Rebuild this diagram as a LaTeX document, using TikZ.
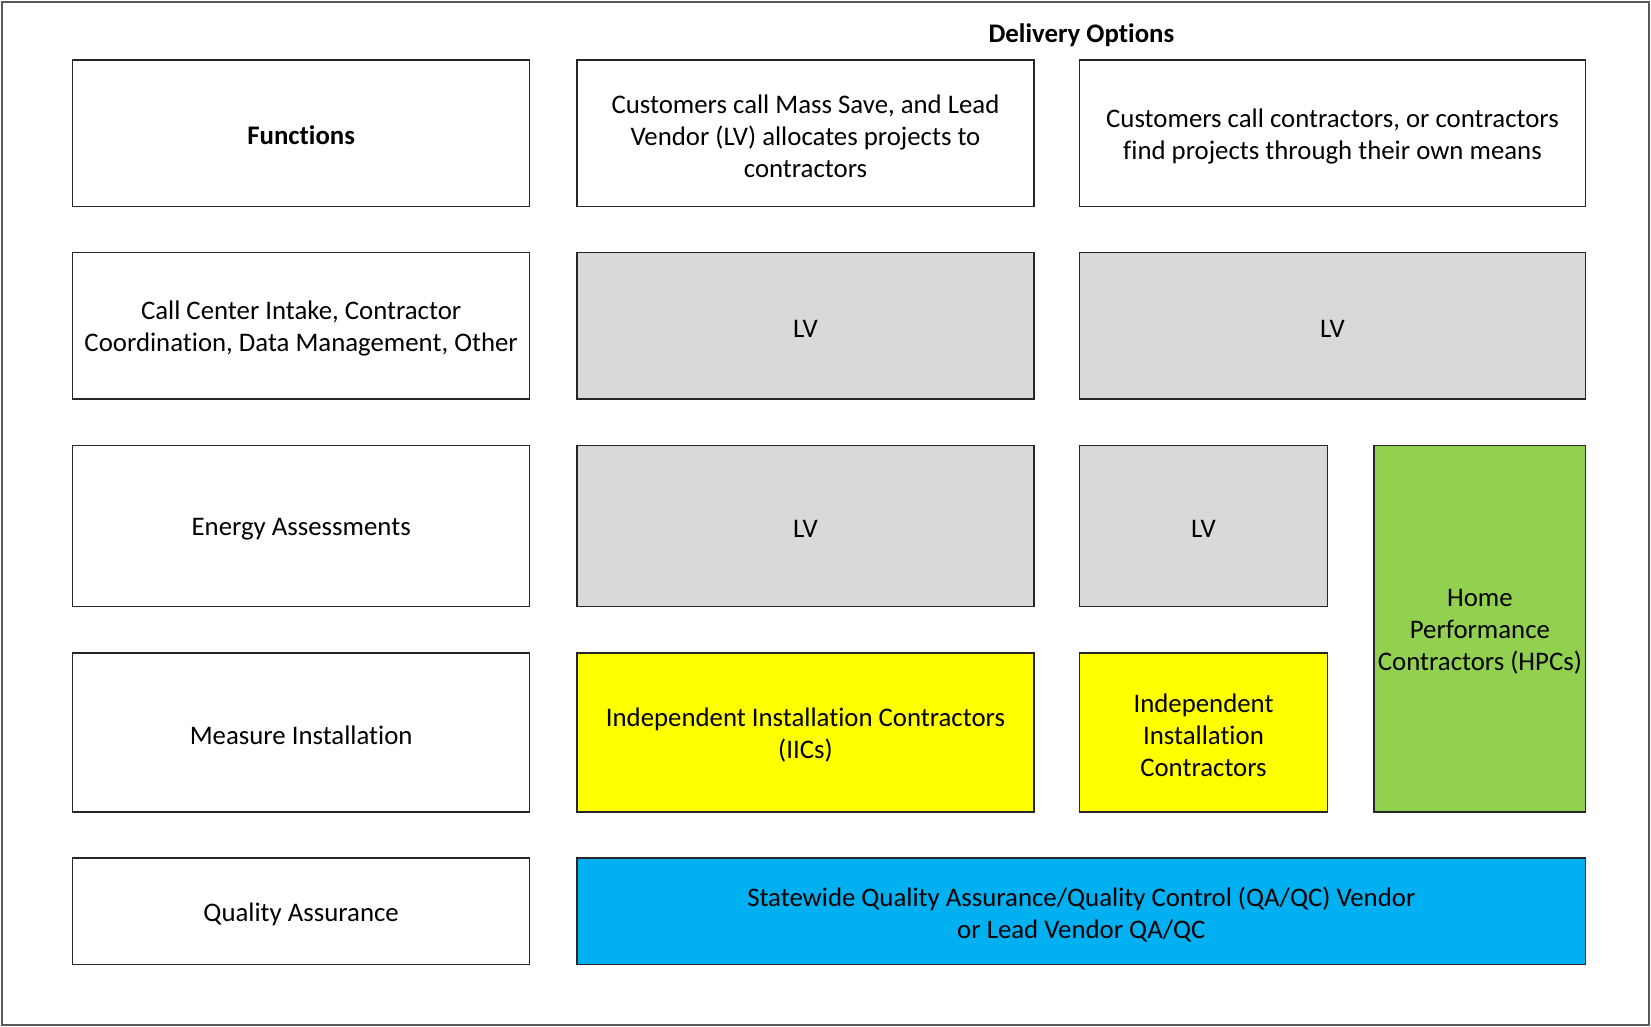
\documentclass[tikz,border=0pt]{standalone}
\usepackage{fontspec}
\setmainfont{Carlito}[Ligatures={NoCommon,NoRare,NoContextual}]
\usetikzlibrary{fit}
\definecolor{lvgray}{HTML}{D9D9D9}
\definecolor{iicyellow}{HTML}{FFFF00}
\definecolor{hpcgreen}{HTML}{92D050}
\definecolor{qablue}{HTML}{00B0F0}
\definecolor{framegray}{HTML}{595959}
\begin{document}
\begin{tikzpicture}[x=1pt,y=-1pt,
  box/.style={draw=black!85, line width=1.4pt, inner sep=0pt, outer sep=0pt},
  lvbox/.style={box, fill=lvgray},
  iicbox/.style={box, fill=iicyellow},
  hpcbox/.style={box, fill=hpcgreen},
  qabox/.style={box, fill=qablue},
  txt/.style={align=center, inner sep=0pt, yshift=-3pt, font=\fontsize{26.8}{32}\selectfont},
  btxt/.style={txt, font=\fontsize{26.8}{32}\selectfont\bfseries}]
\useasboundingbox (0,0) rectangle (1651,1027);
\draw[framegray, line width=2pt] (2,2) rectangle (1649,1025);
\node[btxt, yshift=2pt] (title) at (1081.4,34) {Delivery Options};
% column 1
\node[box, fit={(72.7,60) (529.6,206.4)}] (fun) {};
\node[btxt, yshift=1pt] at (fun.center) {Functions};
\node[box, fit={(72.7,252.7) (529.6,399.1)}] (call) {};
\node[txt] at (call.center) {Call Center Intake, Contractor\\Coordination, Data Management, Other};
\node[box, fit={(72.7,445.4) (529.6,606.5)}] (ea) {};
\node[txt] at (ea.center) {Energy Assessments};
\node[box, fit={(72.7,652.8) (529.6,811.8)}] (mi) {};
\node[txt] at (mi.center) {Measure Installation};
\node[box, fit={(72.7,858.1) (529.6,964.5)}] (qa) {};
\node[txt] at (qa.center) {Quality Assurance};
% column 2
\node[box, fit={(577,60) (1034,206.4)}] (opt1) {};
\node[txt] at (opt1.center) {Customers call Mass Save, and Lead\\Vendor (LV) allocates projects to\\contractors};
\node[lvbox, fit={(577,252.7) (1034,399.1)}] (lv1) {};
\node[txt] at (lv1.center) {LV};
\node[lvbox, fit={(577,445.4) (1034,606.5)}] (lv2) {};
\node[txt] at (lv2.center) {LV};
\node[iicbox, fit={(577,652.8) (1034,811.8)}] (iic1) {};
\node[txt] at (iic1.center) {Independent Installation Contractors\\(IICs)};
% column 3
\node[box, fit={(1079.3,60) (1585.7,206.4)}] (opt2) {};
\node[txt] at (opt2.center) {Customers call contractors, or contractors\\find projects through their own means};
\node[lvbox, fit={(1079.3,252.7) (1585.7,399.1)}] (lv3) {};
\node[txt] at (lv3.center) {LV};
\node[lvbox, fit={(1079.3,445.4) (1327.7,606.5)}] (lv4) {};
\node[txt] at (lv4.center) {LV};
\node[iicbox, fit={(1079.3,652.8) (1327.7,811.8)}] (iic2) {};
\node[txt] at (iic2.center) {Independent\\Installation\\Contractors};
\node[hpcbox, fit={(1374.1,445.4) (1585.7,811.8)}] (hpc) {};
\node[txt] at (hpc.center) {Home\\Performance\\Contractors (HPCs)};
\node[qabox, fit={(577,858.1) (1585.7,964.5)}] (qav) {};
\node[txt] at (qav.center) {Statewide Quality Assurance/Quality Control (QA/QC) Vendor\\or Lead Vendor QA/QC};
\end{tikzpicture}
\end{document}
